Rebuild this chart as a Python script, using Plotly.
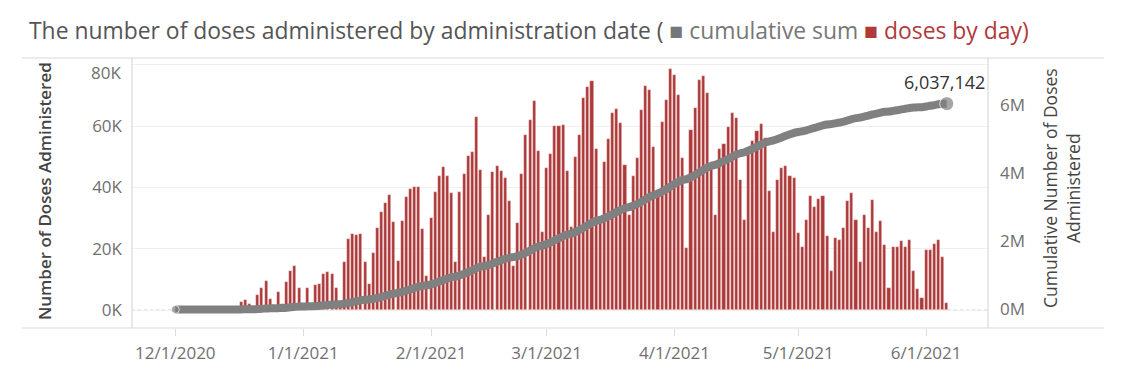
import pandas as pd
import plotly.graph_objects as go

# ---------------- data ----------------
first_dose_date = "2020-12-17"
cumulative_start_date = "2020-12-01"

daily_doses = [
    2500, 3200, 2000, 300, 4900, 7200, 9400, 3600, 200, 6000,
    1800, 9200, 12600, 14400, 7200, 500, 7200, 800, 8100, 8600,
    11600, 12300, 11600, 7200, 2000, 15500, 23000, 24900, 24500, 24900,
    15500, 8600, 18700, 26800, 31900, 34800, 37600, 28600, 15900, 29000,
    36800, 39500, 40000, 40000, 26300, 11000, 30000, 38600, 43800, 46500,
    43800, 38200, 15700, 38600, 44300, 50300, 51600, 62800, 45800, 17300,
    31100, 44900, 47100, 45200, 43000, 35400, 14400, 28300, 44300, 57100,
    62000, 68000, 51900, 25300, 46300, 51000, 59900, 59900, 60400, 45200,
    27000, 50000, 57100, 69100, 72700, 74700, 52400, 29000, 48100, 55700,
    64200, 65600, 60900, 47200, 31000, 43800, 49600, 65300, 73200, 71800,
    53300, 39000, 61400, 68600, 78500, 76500, 70000, 49500, 20300, 58700,
    65900, 74900, 76200, 70800, 48000, 31000, 52400, 54000, 59800, 64100,
    62700, 42400, 29200, 52000, 55000, 58400, 60500, 56200, 38900, 25300,
    42500, 46200, 47000, 43800, 43000, 25000, 20500, 29200, 37300, 33500,
    36200, 37300, 24000, 12600, 23500, 22700, 26700, 35400, 38200, 29200,
    15500, 31100, 26700, 35900, 25400, 28900, 21100, 7200, 20500, 20500,
    22400, 20500, 22900, 12600, 6800, 4000, 19500, 19700, 21600, 22900,
    17300, 2242,
]

left_tick_vals = [0, 20000, 40000, 60000, 80000]
left_tick_text = ["0K", "20K", "40K", "60K", "80K"]
right_tick_vals = [0, 2000000, 4000000, 6000000]
right_tick_text = ["0M", "2M", "4M", "6M"]
x_tick_dates = ["2020-12-01", "2021-01-01", "2021-02-01", "2021-03-01",
                "2021-04-01", "2021-05-01", "2021-06-01"]

title_main = "The number of doses administered by administration date ( "
title_cum = "\u25A0 cumulative sum "
title_day = "\u25A0 doses by day)"
left_title = "Number of Doses Administered"
right_title = "Cumulative Number of Doses<br>Administered"

# ---------------- derived tables ----------------
bar_dates = pd.date_range(first_dose_date, periods=len(daily_doses), freq="D")
daily = pd.Series(daily_doses, index=bar_dates)
full_idx = pd.date_range(cumulative_start_date, bar_dates[-1], freq="D")
cumulative = daily.reindex(full_idx, fill_value=0).cumsum()

BAR_COLOR = "#ab3a3a"
LINE_COLOR = "#808080"
TICK_COLOR = "#707070"
FONT = "Open Sans"

W, H = 1140, 377
SL, SR, ST, SB = 132, 988, 62, 328          # plot area in screen px
pw, ph = SR - SL, SB - ST


def px(xs):
    return (xs - SL) / pw


def py(ys):
    return (SB - ys) / ph


# Tableau keeps the top tick label inside the pane: draw it separately
left_axis_labels = [t if v < max(left_tick_vals) else "" for v, t in zip(left_tick_vals, left_tick_text)]

fig = go.Figure()
fig.add_trace(go.Bar(
    x=daily.index, y=daily.values,
    marker=dict(color=BAR_COLOR, line=dict(color="rgba(255,235,235,0.7)", width=0.6)),
    width=0.74 * 86400000, yaxis="y", name="doses by day",
))
fig.add_trace(go.Scatter(
    x=cumulative.index, y=cumulative.values, yaxis="y2", mode="lines",
    line=dict(color=LINE_COLOR, width=8, shape="spline", smoothing=0.3),
    name="cumulative sum",
))
fig.add_trace(go.Scatter(
    x=[cumulative.index[0], cumulative.index[-1]],
    y=[cumulative.values[0], cumulative.values[-1]], yaxis="y2", mode="markers",
    marker=dict(color=LINE_COLOR, size=[8, 14]),
))

fig.update_layout(
    width=W, height=H,
    margin=dict(l=SL, r=W - SR, t=ST, b=H - SB, pad=0),
    paper_bgcolor="white", plot_bgcolor="white",
    showlegend=False,
    bargap=0,
    font=dict(family=FONT, color=TICK_COLOR, size=16),
    xaxis=dict(
        type="date",
        range=["2020-11-20 12:00", "2021-06-16"],
        tickvals=x_tick_dates, tickformat="%-m/%-d/%Y",
        ticks="outside", ticklen=7, tickcolor="#dddddd",
        showgrid=False, zeroline=False, showline=False,
        tickfont=dict(size=17, color=TICK_COLOR),
        ticklabelstandoff=3,
    ),
    yaxis=dict(
        range=[-5870, 80870],
        tickvals=left_tick_vals, ticktext=left_axis_labels,
        showgrid=True, gridcolor="#efefef", gridwidth=1,
        zeroline=False, showline=False, ticks="",
        tickfont=dict(size=17, color=TICK_COLOR),
        ticklabelstandoff=9,
    ),
    yaxis2=dict(
        range=[-543000, 7258000], overlaying="y", side="right",
        tickvals=right_tick_vals, ticktext=right_tick_text,
        showgrid=False, zeroline=False, showline=False, ticks="",
        tickfont=dict(size=17, color=TICK_COLOR),
        ticklabelstandoff=11,
    ),
)

fig.add_annotation(
    xref="paper", yref="paper", x=px(123), y=py(72), xanchor="right", yanchor="middle",
    showarrow=False, text=left_tick_text[-1],
    font=dict(family=FONT, size=17, color=TICK_COLOR),
)

# frame lines
line_style = dict(color="#d9d9d9", width=1.2)
fig.add_shape(type="line", xref="paper", yref="paper", x0=px(22), x1=px(1104),
              y0=py(58), y1=py(58), line=line_style)
fig.add_shape(type="line", xref="paper", yref="paper", x0=px(22), x1=px(1104),
              y0=0, y1=0, line=line_style)
fig.add_shape(type="line", xref="paper", yref="paper", x0=0, x1=0,
              y0=0, y1=py(58), line=line_style)
fig.add_shape(type="line", xref="paper", yref="paper", x0=1.0, x1=1.0,
              y0=0, y1=py(58), line=line_style)
# dotted zero line
fig.add_shape(type="line", xref="paper", yref="y", x0=0, x1=1, y0=0, y1=0,
              line=dict(color="#cccccc", width=1, dash="dot"), layer="below")

# title
fig.add_annotation(
    xref="paper", yref="paper", x=px(27), y=py(31), xanchor="left", yanchor="middle",
    showarrow=False,
    text=(f"<span style='color:#555555'>{title_main}</span>"
          f"<span style='color:#777777'>{title_cum}</span>"
          f"<span style='color:#b03a3a'>{title_day}</span>"),
    font=dict(family=FONT, size=22.9),
)
# axis titles
fig.add_annotation(
    xref="paper", yref="paper", x=px(44), y=py(191), textangle=-90,
    xanchor="center", yanchor="middle",
    showarrow=False, text=left_title,
    font=dict(family=FONT, size=17, color="#444444", weight=600),
)
fig.add_annotation(
    xref="paper", yref="paper", x=px(1061), y=py(188), textangle=-90,
    xanchor="center", yanchor="middle",
    showarrow=False, text=right_title,
    font=dict(family=FONT, size=17.5, color="#444444"),
)
# end label
fig.add_annotation(
    x=cumulative.index[-1], y=cumulative.values[-1], xref="x", yref="y2",
    text=f"{int(cumulative.values[-1]):,}", showarrow=False,
    xanchor="center", yanchor="bottom", yshift=8, xshift=-2,
    font=dict(family=FONT, size=18, color="#333333"),
)

fig.write_html("out.html", config={"displayModeBar": False},
               post_script="document.body.style.margin='0px';")
